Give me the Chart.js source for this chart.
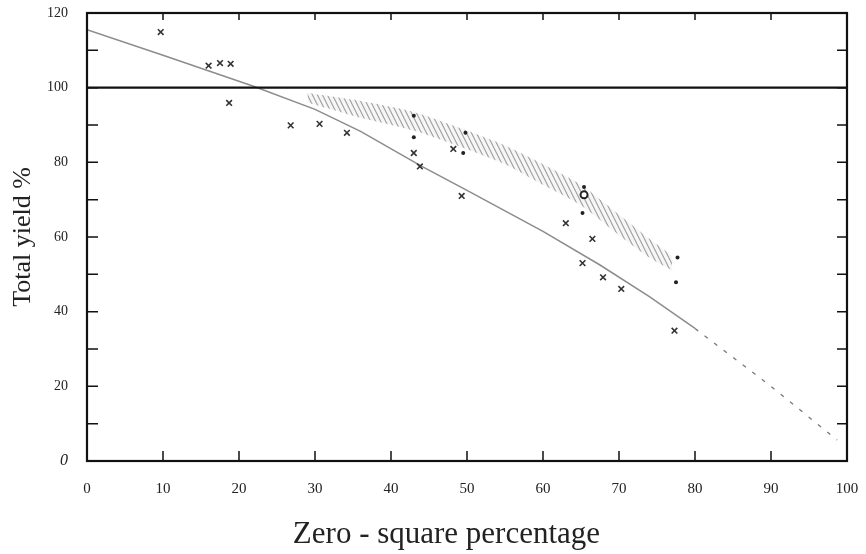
<!DOCTYPE html>
<html>
<head>
<meta charset="utf-8">
<script src="https://cdn.jsdelivr.net/npm/chart.js@4"></script>
<style>
  html, body { margin: 0; padding: 0; background: #fff; }
  #wrap { width: 866px; height: 554px; }
</style>
</head>
<body>
<div id="wrap"><canvas id="chart"></canvas></div>
<script>
// values
const crossX = [9.7, 16.0, 17.5, 18.9, 18.7, 26.8, 30.6, 34.2, 43.0, 43.8, 48.2, 49.3, 63.0, 66.5, 65.2, 67.9, 70.3, 77.3];
const crossY = [114.9, 105.9, 106.6, 106.4, 95.9, 89.9, 90.3, 87.9, 82.5, 78.9, 83.6, 71.0, 63.7, 59.5, 53.0, 49.2, 46.1, 34.9];
const dotX = [43.0, 43.0, 49.8, 49.5, 65.4, 65.2, 77.7, 77.5];
const dotY = [92.5, 86.7, 87.9, 82.5, 73.4, 66.4, 54.5, 47.9];
const ringX = [65.4];
const ringY = [71.3];

const fitX = [0, 10, 22, 30, 36, 44, 50, 60, 67.5, 74, 80];
const fitY = [115.5, 108.7, 100.3, 94.2, 88.3, 79, 72.5, 61.5, 52.5, 44, 35.5];
const extX = [80, 90, 98.7];
const extY = [35.5, 20, 5.6];

const bandX = [29, 35, 43, 50, 55, 60, 65, 70, 74, 77];
const bandTop = [98.6, 96.8, 93.5, 88.5, 84.5, 79.5, 74, 66, 59.5, 55];
const bandBottom = [96, 92.5, 88.5, 83.5, 79.5, 74, 68.5, 60.5, 54.5, 51];

const refX = [0, 100];
const refY = [100, 100];

const xTicks = [0, 10, 20, 30, 40, 50, 60, 70, 80, 90, 100];

const xTitle = "Zero - square percentage";

const pts = (xs, ys) => xs.map((x, i) => ({ x: x, y: ys[i] }));

// hatch pattern for the shaded band
function hatch() {
  const c = document.createElement("canvas");
  c.width = 5;
  c.height = 10;
  const g = c.getContext("2d");
  g.fillStyle = "rgba(210,210,210,0.2)";
  g.fillRect(0, 0, 5, 10);
  g.strokeStyle = "#a0a0a0";
  g.lineWidth = 1.1;
  g.beginPath();
  g.moveTo(-5, -10); g.lineTo(10, 20);
  g.moveTo(-10, -10); g.lineTo(5, 20);
  g.moveTo(0, -10); g.lineTo(15, 20);
  g.stroke();
  return g.createPattern(c, "repeat");
}

const serif = "'Liberation Serif', 'Times New Roman', serif";

// box with inward ticks on all four sides, plus the x title
const frame = {
  id: "frame",
  afterDatasetsDraw(chart) {
    const { ctx, chartArea: a, scales: { x, y } } = chart;
    ctx.save();
    ctx.strokeStyle = "#111";
    ctx.lineWidth = 1.5;
    for (let v = 10; v < 120; v += 10) {
      const py = y.getPixelForValue(v);
      ctx.beginPath();
      ctx.moveTo(a.left, py); ctx.lineTo(a.left + 11, py);
      ctx.moveTo(a.right, py); ctx.lineTo(a.right - 10, py);
      ctx.stroke();
    }
    for (let v = 10; v < 100; v += 10) {
      const px = x.getPixelForValue(v);
      ctx.beginPath();
      ctx.moveTo(px, a.bottom); ctx.lineTo(px, a.bottom - 10);
      ctx.moveTo(px, a.top); ctx.lineTo(px, a.top + 7);
      ctx.stroke();
    }
    ctx.lineWidth = 2.2;
    ctx.strokeRect(a.left, a.top, a.right - a.left, a.bottom - a.top);

    ctx.fillStyle = "#222";
    ctx.font = "31px " + serif;
    ctx.textAlign = "center";
    ctx.textBaseline = "middle";
    ctx.fillText(xTitle, x.getPixelForValue(47.3), 535);
    ctx.restore();
  }
};

new Chart(document.getElementById("chart"), {
  type: "scatter",
  data: {
    datasets: [
      {
        data: pts(crossX, crossY),
        pointStyle: "crossRot",
        pointRadius: 4,
        borderColor: "#333",
        borderWidth: 1.6,
      },
      {
        data: pts(dotX, dotY),
        pointStyle: "circle",
        pointRadius: 2,
        backgroundColor: "#222",
        borderColor: "#222",
        borderWidth: 0,
      },
      {
        data: pts(ringX, ringY),
        pointStyle: "circle",
        pointRadius: 3.5,
        backgroundColor: "#fff",
        borderColor: "#222",
        borderWidth: 2,
      },
      {
        data: pts(refX, refY),
        showLine: true,
        pointRadius: 0,
        borderColor: "#111",
        borderWidth: 2.4,
      },
      {
        data: pts(fitX, fitY),
        showLine: true,
        pointRadius: 0,
        borderColor: "#8c8c8c",
        borderWidth: 1.5,
      },
      {
        data: pts(extX, extY),
        showLine: true,
        pointRadius: 0,
        borderColor: "#777",
        borderWidth: 1.3,
        borderDash: [4, 8],
      },
      {
        data: pts(bandX, bandTop),
        showLine: true,
        pointRadius: 0,
        borderWidth: 0,
        borderColor: "rgba(0,0,0,0)",
        backgroundColor: hatch(),
        fill: "+1",
        tension: 0.2,
      },
      {
        data: pts(bandX, bandBottom),
        showLine: true,
        pointRadius: 0,
        borderWidth: 0,
        borderColor: "rgba(0,0,0,0)",
        tension: 0.2,
      },
    ],
  },
  options: {
    responsive: true,
    maintainAspectRatio: false,
    animation: false,
    layout: { padding: { top: 13, right: 19, left: 0, bottom: 0 } },
    plugins: { legend: { display: false }, tooltip: { enabled: false } },
    scales: {
      x: {
        type: "linear",
        min: 0,
        max: 100,
        afterFit: (s) => { s.height = 93; s.paddingLeft = 0; s.paddingRight = 0; },
        afterBuildTicks: (s) => { s.ticks = xTicks.map((v) => ({ value: v })); },
        grid: { display: false },
        border: { display: false },
        ticks: {
          padding: 11,
          color: "#222",
          font: { family: serif, size: 15 },
          maxRotation: 0,
        },
        title: { display: false },
      },
      y: {
        type: "linear",
        min: 0,
        max: 120,
        afterFit: (s) => { s.width = 87; s.paddingTop = 0; s.paddingBottom = 0; },
        grid: { display: false },
        border: { display: false },
        ticks: {
          stepSize: 20,
          padding: 11,
          color: "#222",
          font: (c) => ({ family: serif, size: c.tick && c.tick.value === 0 ? 16 : 14, style: c.tick && c.tick.value === 0 ? "italic" : "normal" }),
        },
        title: {
          display: true,
          text: "Total yield %",
          color: "#222",
          font: { family: serif, size: 26 },
          padding: { top: 8, bottom: 0 },
        },
      },
    },
  },
  plugins: [frame],
});
</script>
</body>
</html>
